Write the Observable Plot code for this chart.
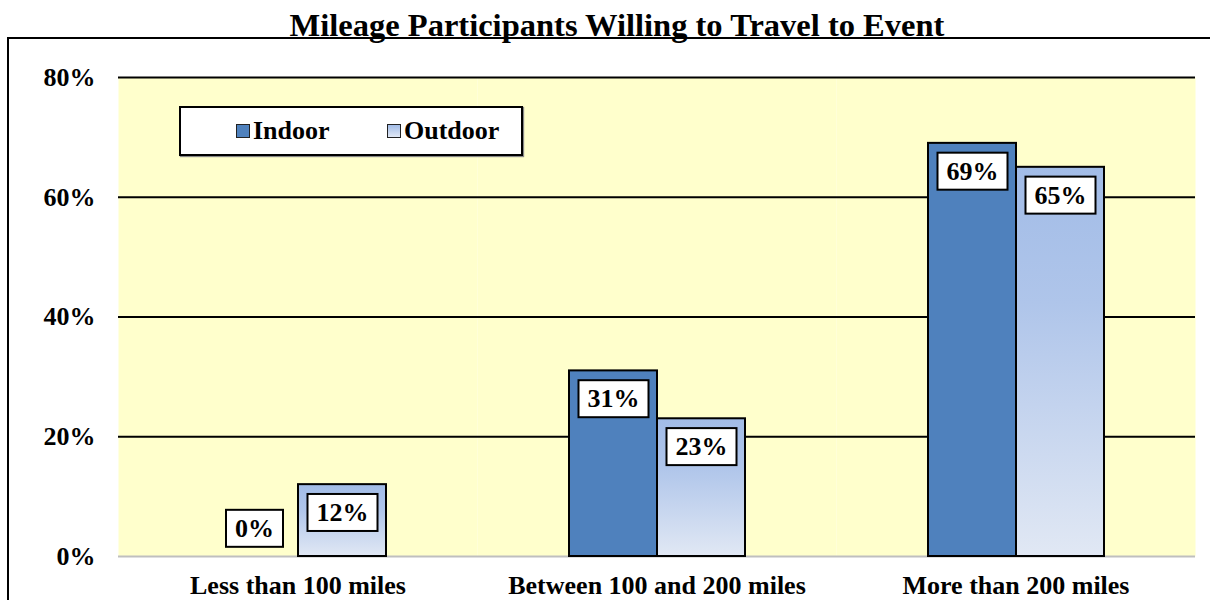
<!DOCTYPE html>
<html>
<head>
<meta charset="utf-8">
<script src="https://cdn.jsdelivr.net/npm/d3@7"></script>
<script src="https://cdn.jsdelivr.net/npm/@observablehq/plot@0.6"></script>
<style>
  html, body { margin: 0; padding: 0; background: #fff; }
  body { font-family: "Liberation Serif", "Times New Roman", "DejaVu Serif", serif; }
  #wrap { position: relative; width: 1210px; height: 600px; overflow: hidden; }
  #title { position: absolute; left: 0; top: 6px; width: 1234px; text-align: center;
           font-size: 32.5px; line-height: 38px; font-weight: bold; color: #000; }
  #frame { position: absolute; left: 7px; top: 37px; width: 1203px; height: 563px;
           border-top: 2px solid #000; border-left: 2px solid #000; }
  #chart { position: absolute; left: 10px; top: 39px; }
  #legend { position: absolute; left: 179px; top: 106px; width: 340px; height: 46px;
            background: #fff; border: 2px solid #000; box-shadow: 1px 1px 1px #888; }
  .lg-item { position: absolute; top: 0; height: 46px; display: flex; align-items: center;
             font-size: 26px; font-weight: bold; color: #000; }
  .sw { width: 12px; height: 12px; border: 1.5px solid #222; margin-right: 3px; }
</style>
</head>
<body>
<div id="wrap">
  <div id="title">Mileage Participants Willing to Travel to Event</div>
  <div id="frame"></div>
  <div id="chart"></div>
  <div id="legend"></div>
</div>
<script>
const categories = ["Less than 100 miles", "Between 100 and 200 miles", "More than 200 miles"];
const series = ["Indoor", "Outdoor"];
const indoorValues = [0, 31, 69];
const outdoorValues = [12, 23, 65];
const yTicks = [0, 20, 40, 60, 80];
const seriesColors = ["#4F81BD", "url(#outGrad)"];

const rows = [];
categories.forEach((c, i) => {
  rows.push({category: c, series: "Indoor", value: indoorValues[i]});
  rows.push({category: c, series: "Outdoor", value: outdoorValues[i]});
});

const font = '"Liberation Serif", "Times New Roman", "DejaVu Serif", serif';

const plot = Plot.plot({
  width: 1200,
  height: 561,
  marginLeft: 108,
  marginRight: 15,
  marginTop: 38,
  marginBottom: 44,
  style: {fontFamily: font, background: "transparent", color: "#000", overflow: "visible"},
  fx: {domain: categories, padding: 0, label: null},
  x: {domain: series, paddingInner: 0, paddingOuter: 1.017, axis: null},
  y: {domain: [0, 80], label: null},
  color: {domain: series, range: seriesColors, legend: false},
  marks: [
    Plot.frame({fill: "#FFFFCC", stroke: null}),
    Plot.ruleY(yTicks.filter(d => d > 0), {stroke: "#000", strokeWidth: 2}),
    Plot.ruleY([0], {stroke: "#BFBFBF", strokeWidth: 2}),
    Plot.barY(rows.filter(d => d.value > 0), {
      fx: "category", x: "series", y: "value", fill: "series",
      stroke: "#000", strokeWidth: 2
    }),
    Plot.text(rows.filter(d => d.value > 0), {
      fx: "category", x: "series", y: "value", text: d => d.value + "%",
      dy: 28, fontSize: 26, fontWeight: "bold", fill: "#000", className: "lbl"
    }),
    Plot.text(rows.filter(d => d.value === 0), {
      fx: "category", x: "series", y: "value", text: d => d.value + "%",
      dy: -28, fontSize: 26, fontWeight: "bold", fill: "#000", className: "lbl"
    }),
    Plot.axisY({ticks: yTicks, tickSize: 0, tickPadding: 23, fontSize: 26, fontWeight: "bold",
                tickFormat: d => d + "%", label: null}),
    Plot.axisFx({anchor: "bottom", tickSize: 0, tickPadding: 19, fontSize: 26, fontWeight: "bold", label: null})
  ]
});

document.getElementById("chart").appendChild(plot);

// gradient definition for Outdoor bars
const svg = d3.select(plot);
const defs = svg.insert("defs", ":first-child");
const grad = defs.append("linearGradient").attr("id", "outGrad")
  .attr("x1", 0).attr("y1", 0).attr("x2", 0).attr("y2", 1);
grad.append("stop").attr("offset", "0%").attr("stop-color", "#A2BCE7");
grad.append("stop").attr("offset", "35%").attr("stop-color", "#AFC5EA");
grad.append("stop").attr("offset", "100%").attr("stop-color", "#E1E8F4");

// white boxed data labels
svg.selectAll(".lbl text").each(function() {
  const b = this.getBBox();
  d3.select(this.parentNode).insert("rect", () => this)
    .attr("x", b.x - 9).attr("y", b.y - 4)
    .attr("width", b.width + 18).attr("height", b.height + 8)
    .attr("fill", "#fff").attr("stroke", "#000").attr("stroke-width", 2)
    .attr("transform", this.getAttribute("transform"));
});

// legend
const legend = d3.select("#legend");
const lgX = [55, 206];
series.forEach((s, i) => {
  const item = legend.append("div").attr("class", "lg-item").style("left", lgX[i] + "px");
  item.append("div").attr("class", "sw")
    .style("background", i === 0 ? "#4F81BD" : "linear-gradient(#A2BCE7, #E1E8F4)");
  item.append("span").text(s);
});
</script>
</body>
</html>
